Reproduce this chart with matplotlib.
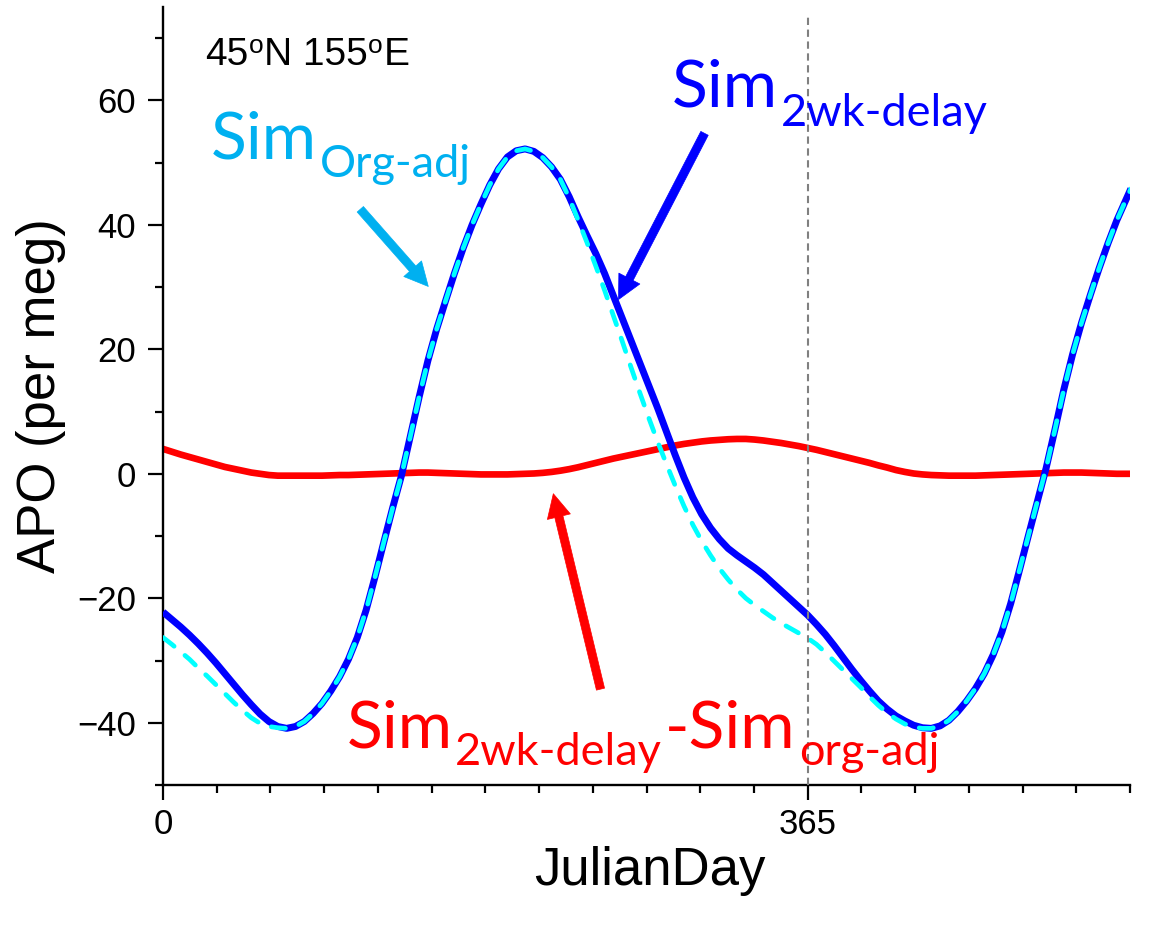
import matplotlib.pyplot as plt
import matplotlib.transforms as mtransforms
from matplotlib.ticker import FixedLocator, MultipleLocator

plt.rcParams['font.family'] = ['Liberation Sans', 'DejaVu Sans']

# APO seasonal cycle at 45N 155E over 1.5 years, sampled every 5 days
julian_day = list(range(0, 546, 5)) + [548]

sim_2wk_delay = [
    -22.2, -23.4, -24.6, -25.9, -27.3, -28.8, -30.4, -32.1, -33.8, -35.5,
    -37.1, -38.6, -39.8, -40.6, -40.9, -40.6, -39.8, -38.5, -36.9, -34.9,
    -32.6, -29.8, -26.3, -21.9, -16.6, -11.0, -5.5, -0.3, 6.0, 12.3,
    18.2, 23.3, 27.8, 32.2, 36.3, 40.0, 43.3, 46.4, 49.0, 50.9,
    51.9, 52.2, 51.8, 50.8, 49.3, 47.3, 44.5, 41.3, 38.3, 35.4,
    32.2, 28.6, 25.0, 21.4, 17.8, 14.2, 10.6, 6.8, 3.0, -0.6,
    -3.8, -6.5, -8.7, -10.5, -12.0, -13.1, -14.1, -15.1, -16.2, -17.5,
    -18.8, -20.1, -21.4, -22.7, -24.2, -25.8, -27.6, -29.5, -31.4, -33.2,
    -34.9, -36.5, -37.8, -38.9, -39.7, -40.4, -40.8, -40.9, -40.5, -39.6,
    -38.2, -36.5, -34.5, -32.1, -29.1, -25.4, -20.8, -15.4, -9.9, -4.5,
    0.9, 7.1, 13.5, 19.2, 24.2, 28.7, 33.0, 37.0, 40.7, 43.9,
    45.8]

sim_org_adj = [
    -26.3, -27.4, -28.6, -29.8, -31.2, -32.5, -33.9, -35.3, -36.7, -38.0,
    -39.2, -40.1, -40.6, -40.8, -40.9, -40.6, -39.8, -38.5, -36.9, -34.9,
    -32.6, -29.8, -26.3, -21.9, -16.6, -11.0, -5.5, -0.3, 6.0, 12.3,
    18.2, 23.3, 27.8, 32.2, 36.3, 40.0, 43.3, 46.4, 49.0, 50.9,
    51.9, 52.2, 51.8, 50.8, 49.3, 47.3, 44.3, 40.8, 37.2, 33.4,
    29.5, 25.4, 21.3, 17.1, 13.0, 9.0, 5.2, 1.6, -1.9, -5.2,
    -8.2, -10.8, -13.1, -15.2, -17.0, -18.6, -20.0, -21.1, -22.1, -23.1,
    -24.0, -24.8, -25.6, -26.4, -27.4, -28.7, -30.1, -31.5, -32.9, -34.3,
    -35.8, -37.2, -38.4, -39.4, -40.2, -40.7, -40.9, -40.9, -40.5, -39.6,
    -38.2, -36.5, -34.5, -32.1, -29.1, -25.4, -20.8, -15.4, -9.9, -4.5,
    0.9, 7.1, 13.5, 19.2, 24.2, 28.7, 33.0, 37.0, 40.7, 43.9,
    45.8]

sim_difference = [
    4.0, 3.55, 3.1, 2.7, 2.3, 1.9, 1.5, 1.1, 0.8, 0.5,
    0.2, 0.0, -0.2, -0.3, -0.3, -0.3, -0.3, -0.3, -0.3, -0.25,
    -0.2, -0.2, -0.15, -0.1, -0.05, 0.0, 0.05, 0.1, 0.15, 0.2,
    0.2, 0.15, 0.1, 0.05, 0.0, -0.05, -0.1, -0.1, -0.1, -0.1,
    -0.05, 0.0, 0.05, 0.15, 0.3, 0.5, 0.75, 1.05, 1.4, 1.75,
    2.1, 2.45, 2.75, 3.05, 3.35, 3.65, 3.95, 4.25, 4.55, 4.8,
    5.0, 5.2, 5.35, 5.45, 5.55, 5.6, 5.6, 5.5, 5.35, 5.15,
    4.95, 4.7, 4.45, 4.15, 3.85, 3.5, 3.15, 2.8, 2.45, 2.1,
    1.75, 1.35, 1.0, 0.6, 0.3, 0.05, -0.1, -0.2, -0.25, -0.3,
    -0.3, -0.3, -0.3, -0.25, -0.2, -0.15, -0.1, -0.05, 0.0, 0.05,
    0.1, 0.15, 0.2, 0.2, 0.2, 0.15, 0.1, 0.05, 0.0, 0.0,
    0.0]

year_length = 365
month_ticks = [i * year_length / 12 for i in range(19)]

fig = plt.figure(figsize=(11.53, 9.25), dpi=100)
ax = fig.add_axes([163 / 1153, 1 - 785 / 925, 967 / 1153, 778 / 925])

ax.plot(julian_day, sim_difference, color='#ff0000', lw=4.8, zorder=2,
        solid_capstyle='butt', solid_joinstyle='round')
ax.plot(julian_day, sim_2wk_delay, color='#0000ff', lw=5.0, zorder=3,
        solid_capstyle='butt', solid_joinstyle='round')
ax.plot(julian_day, sim_org_adj, color='#00ffff', lw=3.4, zorder=4,
        dashes=(3, 3), dash_capstyle='round', dash_joinstyle='round')
ax.axvline(year_length, ymax=0.99, color='#808080', lw=1.5,
           dashes=(3.5, 2.2), zorder=5)

ax.set_xlim(0, 547.5)
ax.set_ylim(-50, 75)

for side in ['top', 'right']:
    ax.spines[side].set_visible(False)
for side in ['left', 'bottom']:
    ax.spines[side].set_linewidth(1.7)

ax.xaxis.set_major_locator(FixedLocator([0, year_length]))
ax.xaxis.set_minor_locator(FixedLocator(month_ticks))
ax.yaxis.set_major_locator(MultipleLocator(20))
ax.yaxis.set_minor_locator(MultipleLocator(10))
ax.tick_params(which='both', direction='out', width=1.6, labelsize=25)
ax.tick_params(which='major', length=10.5)
ax.tick_params(which='minor', length=5.5)
ax.tick_params(axis='x', which='major', pad=6)
ax.tick_params(axis='y', which='major', pad=9)

ax.set_xlabel('JulianDay', fontsize=38, va='center')
ax.xaxis.set_label_coords(0.503, -0.111)
ax.set_ylabel('APO (per meg)', fontsize=38, va='center')
ax.yaxis.set_label_coords(-0.126, 0.5)

renderer = fig.canvas.get_renderer()


def chained_text(x, y, parts, color, family, gap=1.0):
    # each part is (string, fontsize, vertical shift in pixels)
    dx = 0.0
    for s, size, dy in parts:
        tr = mtransforms.offset_copy(ax.transData, x=dx, y=dy, units='dots')
        t = ax.text(x, y, s, transform=tr, fontsize=size, color=color,
                    family=family, ha='left', va='baseline', zorder=6)
        dx += t.get_window_extent(renderer).width + gap


chained_text(23.8, 65.7,
             [('45', 28, 0), ('o', 19, 12), ('N 155', 28, 0), ('o', 19, 12), ('E', 28, 0)],
             'black', ['Liberation Sans', 'DejaVu Sans'], gap=0.5)

chained_text(27.3, 50.6, [('Sim', 47.5, 0), ('Org-adj', 32.5, -18)],
             '#00b0f0', ['Lato', 'DejaVu Sans'], gap=3)
chained_text(288.0, 59.0, [('Sim', 47.5, 0), ('2wk-delay', 32.5, -19)],
             '#0000ff', ['Lato', 'DejaVu Sans'], gap=3)
chained_text(103.8, -44.0,
             [('Sim', 47.5, 0), ('2wk-delay', 32.5, -17), ('-Sim', 47.5, 0),
              ('org-adj', 32.5, -17)],
             '#ff0000', ['Lato', 'DejaVu Sans'], gap=3)

arrow_style = 'simple,head_length=0.85,head_width=0.85,tail_width=0.3'
for tail, tip, color in [((111.7, 42.5), (150.2, 30.1), '#00b0f0'),
                         ((306.6, 54.7), (257.9, 28.0), '#0000ff'),
                         ((247.7, -34.6), (221.0, -3.2), '#ff0000')]:
    ax.annotate('', xy=tip, xytext=tail,
                arrowprops=dict(arrowstyle=arrow_style, mutation_scale=20,
                                fc=color, ec=color, lw=0.5,
                                shrinkA=0, shrinkB=0), zorder=6)

fig.savefig('out.png', dpi=100)
